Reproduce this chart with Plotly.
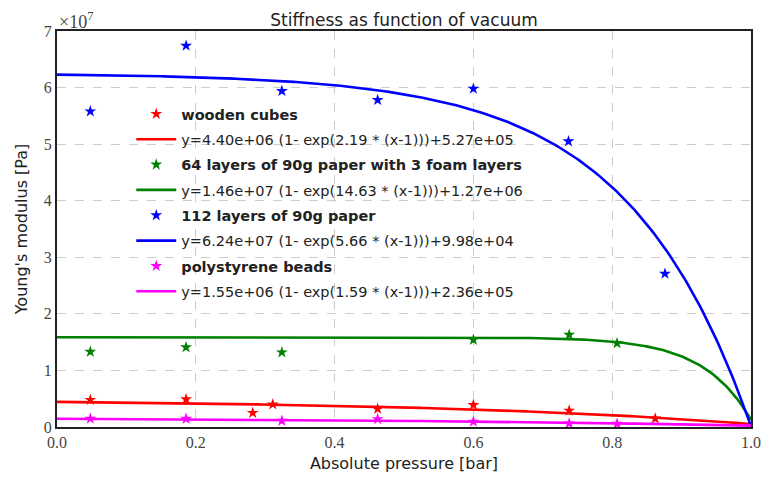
import numpy as np
import plotly.graph_objects as go

# ---- data ----
series_names = ["wooden cubes", "64 layers of 90g paper with 3 foam layers",
                "112 layers of 90g paper", "polystyrene beads"]
colors = ["#ff0000", "#008000", "#0000ff", "#ff00ff"]

wood_x = [0.048, 0.186, 0.282, 0.311, 0.462, 0.600, 0.738, 0.862]
wood_y = [4.8e6, 4.9e6, 2.5e6, 4.0e6, 3.2e6, 3.9e6, 2.9e6, 1.5e6]

foam_x = [0.048, 0.186, 0.324, 0.600, 0.738, 0.807]
foam_y = [1.33e7, 1.41e7, 1.32e7, 1.54e7, 1.63e7, 1.48e7]

paper_x = [0.048, 0.186, 0.324, 0.462, 0.600, 0.737, 0.876]
paper_y = [5.58e7, 6.74e7, 5.94e7, 5.78e7, 5.98e7, 5.05e7, 2.71e7]

beads_x = [0.048, 0.186, 0.324, 0.462, 0.600, 0.738, 0.807]
beads_y = [1.47e6, 1.45e6, 1.1e6, 1.4e6, 0.94e6, 0.64e6, 0.58e6]

# fit parameters: y = a (1 - exp(b (x-1))) + c
fit_a = [4.40e6, 1.46e7, 6.24e7, 1.55e6]
fit_b = [2.19, 14.63, 5.66, 1.59]
fit_c = [5.27e5, 1.27e6, 9.98e4, 2.36e5]

y_ticks = [0, 1e7, 2e7, 3e7, 4e7, 5e7, 6e7, 7e7]
y_ticktext = ["0", "1", "2", "3", "4", "5", "6", "7"]
x_ticks = [0.0, 0.2, 0.4, 0.6, 0.8, 1.0]
x_ticktext = ["0.0", "0.2", "0.4", "0.6", "0.8", "1.0"]

points = [(wood_x, wood_y), (foam_x, foam_y), (paper_x, paper_y), (beads_x, beads_y)]

SANS = "DejaVu Sans, sans-serif"
SERIF = "Liberation Serif, DejaVu Serif, serif"

fig = go.Figure()
xf = np.linspace(0, 1, 300)
for i in range(4):
    px, py = points[i]
    fig.add_trace(go.Scatter(
        x=px, y=py, mode="markers",
        marker=dict(symbol="star", size=9, color=colors[i], line=dict(width=0)),
        name="<b>" + series_names[i] + "</b>", legendgroup=f"p{i}",
    ))
    yf = fit_a[i] * (1 - np.exp(fit_b[i] * (xf - 1))) + fit_c[i]
    label = "y=%.2e (1- exp(%.2f * (x-1)))+%.2e" % (fit_a[i], fit_b[i], fit_c[i])
    fig.add_trace(go.Scatter(
        x=xf, y=yf, mode="lines", line=dict(color=colors[i], width=2.6),
        name=label, legendgroup=f"l{i}",
    ))

fig.update_layout(
    width=764, height=470,
    margin=dict(l=48.5, r=20.5, t=23, b=50.7),
    paper_bgcolor="white", plot_bgcolor="white",
    title=dict(text="Stiffness as function of vacuum", x=0.5, xref="paper",
               y=0.975, yanchor="middle",
               font=dict(family=SANS, size=17, color="#222")),
    legend=dict(x=0.107, y=0.831, xanchor="left", yanchor="top",
                bgcolor="rgba(0,0,0,0)", borderwidth=0,
                font=dict(family=SANS, size=14.5, color="#222"),
                tracegroupgap=3.5, traceorder="grouped", itemwidth=40),
    showlegend=True,
)
fig.update_xaxes(
    range=[0, 1], tickvals=x_ticks, ticktext=x_ticktext, automargin=False,
    showgrid=True, gridcolor="#cccccc", griddash="dash", gridwidth=1,
    zeroline=False, showline=True, linecolor="#222", linewidth=2, mirror=True,
    ticks="", tickfont=dict(family=SERIF, size=16, color="#444"),
    title=dict(text="Absolute pressure [bar]", font=dict(family=SANS, size=16, color="#222"), standoff=8),
)
fig.update_yaxes(
    range=[0, 7e7], tickvals=y_ticks, ticktext=y_ticktext, automargin=False,
    showgrid=True, gridcolor="#cccccc", griddash="dash", gridwidth=1,
    zeroline=False, showline=True, linecolor="#222", linewidth=2, mirror=True,
    ticks="", tickfont=dict(family=SERIF, size=16, color="#444"),
    title=dict(text="Young's modulus [Pa]", font=dict(family=SANS, size=16, color="#222"), standoff=12),
)
fig.add_annotation(text="×10<sup>7</sup>", xref="paper", yref="paper", x=0.0, y=1.0,
                   xanchor="left", yanchor="bottom", showarrow=False, yshift=-3,
                   font=dict(family=SERIF, size=18, color="#444"))

fig.write_html("out.html")
